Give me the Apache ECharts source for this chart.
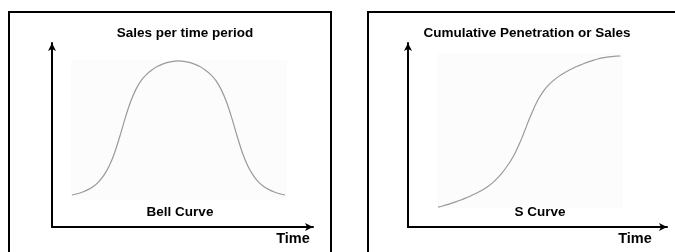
<!DOCTYPE html>
<html>
<head>
<meta charset="utf-8">
<script src="https://cdn.jsdelivr.net/npm/echarts@6/dist/echarts.min.js"></script>
<style>
  html, body { margin: 0; padding: 0; background: #fff; }
  #main { width: 675px; height: 252px; }
</style>
</head>
<body>
<div id="main"></div>
<script>
// time steps shared by both curves (half-step sampling)
const timeSteps = [0, 0.5, 1, 1.5, 2, 2.5, 3, 3.5, 4, 4.5, 5, 5.5, 6, 6.5, 7, 7.5, 8, 8.5, 9, 9.5,
  10, 10.5, 11, 11.5, 12, 12.5, 13, 13.5, 14, 14.5, 15, 15.5, 16, 16.5, 17, 17.5, 18, 18.5, 19, 19.5, 20];
// sales per time period (bell curve)
const bellValues = [0, 0.9, 2.2, 4, 6.4, 9.8, 14.8, 21.8, 31.5, 44, 57.5, 69.5, 78.8, 85.5, 90, 93.3, 95.8, 97.6, 98.9, 99.7,
  100, 99.7, 98.9, 97.6, 95.8, 93.3, 90, 85.5, 78.8, 69.5, 57.5, 44, 31.5, 21.8, 14.8, 9.8, 6.4, 4, 2.2, 0.9, 0];
// cumulative penetration or sales (S curve)
const sValues = [0, 0.7, 1.6, 2.6, 3.6, 4.7, 5.9, 7.2, 8.6, 10.1, 11.8, 13.8, 16.2, 19.1, 22.5, 26.5, 31, 36.5, 43, 50.5,
  58.3, 65.3, 71.5, 76.3, 80, 83, 85.5, 87.6, 89.4, 91, 92.5, 93.8, 95, 96.1, 97.1, 98, 98.7, 99.2, 99.6, 99.9, 100];

const chart = echarts.init(document.getElementById('main'));

const axisArrow = {
  show: true,
  onZero: false,
  symbol: ['none', 'arrow'],
  symbolSize: [6, 8],
  symbolOffset: [0, 0],
  lineStyle: { color: '#000', width: 2 }
};

function hiddenAxis(extra) {
  return Object.assign({
    type: 'value',
    axisLine: axisArrow,
    axisTick: { show: false },
    axisLabel: { show: false },
    splitLine: { show: false }
  }, extra);
}

const txt = (x, y, text, size) => ({
  type: 'text', x: x, y: y,
  style: {
    text: text, fill: '#000', align: 'center', verticalAlign: 'middle',
    font: 'bold ' + size + 'px "Liberation Sans", Arial, sans-serif'
  }
});

chart.setOption({
  animation: false,
  grid: [
    { left: 52, top: 43, width: 261, height: 184 },
    { left: 408, top: 43, width: 259, height: 184 }
  ],
  xAxis: [
    hiddenAxis({ gridIndex: 0, min: -1.88, max: 22.63 }),
    hiddenAxis({ gridIndex: 1, min: -3.3, max: 25.1 })
  ],
  yAxis: [
    hiddenAxis({ gridIndex: 0, min: -23.9, max: 113.4 }),
    hiddenAxis({ gridIndex: 1, min: -13.2, max: 108.6 })
  ],
  graphic: [
    { type: 'rect', shape: { x: 9, y: 12, width: 322, height: 260 },
      style: { fill: 'none', stroke: '#000', lineWidth: 2 } },
    { type: 'rect', shape: { x: 368, y: 12, width: 320, height: 260 },
      style: { fill: 'none', stroke: '#000', lineWidth: 2 } },
    { type: 'rect', z: -1, shape: { x: 71, y: 60, width: 216, height: 140 },
      style: { fill: '#fcfcfc' } },
    { type: 'rect', z: -1, shape: { x: 438, y: 53, width: 185, height: 155 },
      style: { fill: '#fcfcfc' } },
    txt(185, 33, 'Sales per time period', 13.5),
    txt(180, 212, 'Bell Curve', 13.5),
    txt(293, 239, 'Time', 14.5),
    txt(527, 33, 'Cumulative Penetration or Sales', 13.5),
    txt(540, 212, 'S Curve', 13.5),
    txt(635, 239, 'Time', 14.5)
  ],
  series: [
    {
      type: 'line', xAxisIndex: 0, yAxisIndex: 0,
      data: timeSteps.map((t, i) => [t, bellValues[i]]),
      smooth: 0.3, symbol: 'none',
      lineStyle: { color: '#9a9a9a', width: 1.2 }
    },
    {
      type: 'line', xAxisIndex: 1, yAxisIndex: 1,
      data: timeSteps.map((t, i) => [t, sValues[i]]),
      smooth: 0.3, symbol: 'none',
      lineStyle: { color: '#9a9a9a', width: 1.2 }
    }
  ]
});
</script>
</body>
</html>
